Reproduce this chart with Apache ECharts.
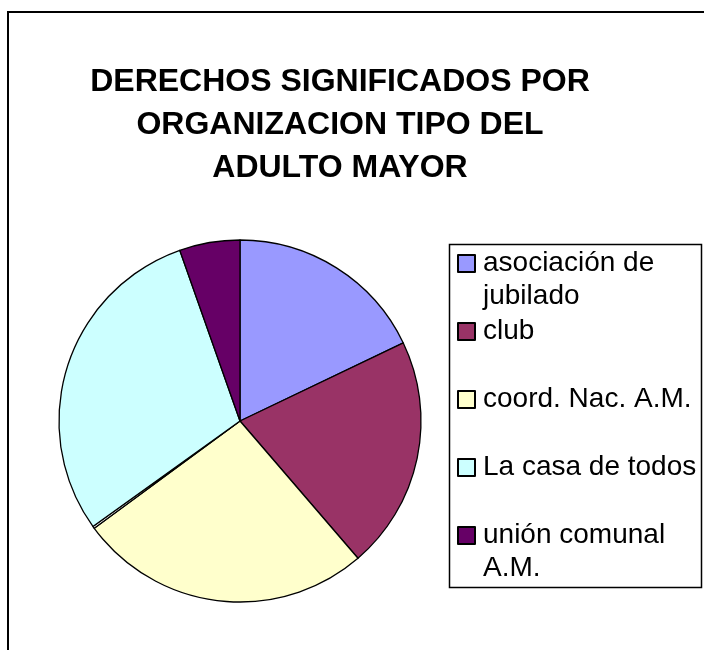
<!DOCTYPE html>
<html>
<head>
<meta charset="utf-8">
<script src="https://cdn.jsdelivr.net/npm/echarts@6/dist/echarts.min.js"></script>
<style>
  html, body { margin: 0; padding: 0; background: #fff; }
  #chart { width: 704px; height: 650px; }
</style>
</head>
<body>
<div id="chart"></div>
<script>
// data (percent of the pie)
const categories = ['asociación de jubilado', 'club', 'coord. Nac. A.M.', 'otro', 'La casa de todos', 'unión comunal A.M.'];
const values = [17.9, 20.8, 26.2, 0.2, 29.5, 5.4];
const colors = ['#9999FF', '#993366', '#FFFFCC', '#FFFFFF', '#CCFFFF', '#660066'];
const legendNames = ['asociación de jubilado', 'club', 'coord. Nac. A.M.', 'La casa de todos', 'unión comunal A.M.'];
// how the legend breaks the long names
const legendLines = {
  'asociación de jubilado': ['asociación de', 'jubilado'],
  'unión comunal A.M.': ['unión comunal', 'A.M.']
};
const titleLines = ['DERECHOS SIGNIFICADOS POR', 'ORGANIZACION TIPO DEL', 'ADULTO MAYOR'];

const chart = echarts.init(document.getElementById('chart'));

const font = '"Liberation Sans", Arial, sans-serif';

chart.setOption({
  backgroundColor: '#fff',
  animation: false,
  title: {
    text: titleLines.join('\n'),
    left: 340,
    top: 61,
    padding: 0,
    textAlign: 'center',
    textStyle: {
      fontFamily: font,
      fontSize: 32,
      fontWeight: 'bold',
      lineHeight: 43,
      color: '#000'
    }
  },
  legend: {
    orient: 'vertical',
    left: 457,
    top: 214,
    padding: 0,
    itemGap: -31,
    itemWidth: 17,
    itemHeight: 17,
    icon: 'rect',
    selectedMode: false,
    data: legendNames,
    formatter: function (name) {
      const lines = legendLines[name] || [name, ' '];
      // empty first line keeps the marker next to the first text line
      return [' '].concat(lines).join('\n');
    },
    textStyle: {
      fontFamily: font,
      fontSize: 28,
      lineHeight: 33,
      color: '#000',
      padding: [0, 0, 0, 3]
    }
  },
  graphic: [
    {
      type: 'rect',
      shape: { x: 8, y: 12, width: 900, height: 900 },
      style: { fill: 'none', stroke: '#000', lineWidth: 2 },
      silent: true
    },
    {
      type: 'rect',
      shape: { x: 449.5, y: 244.5, width: 252, height: 343 },
      style: { fill: 'none', stroke: '#000', lineWidth: 1.5 },
      silent: true
    }
  ],
  series: [{
    type: 'pie',
    center: [240, 421],
    radius: 181,
    startAngle: 90,
    clockwise: true,
    avoidLabelOverlap: false,
    label: { show: false },
    labelLine: { show: false },
    emphasis: { disabled: true },
    itemStyle: { borderColor: '#000', borderWidth: 1.3 },
    data: categories.map(function (c, i) {
      return { name: c, value: values[i], itemStyle: { color: colors[i] } };
    })
  }]
});
</script>
</body>
</html>
